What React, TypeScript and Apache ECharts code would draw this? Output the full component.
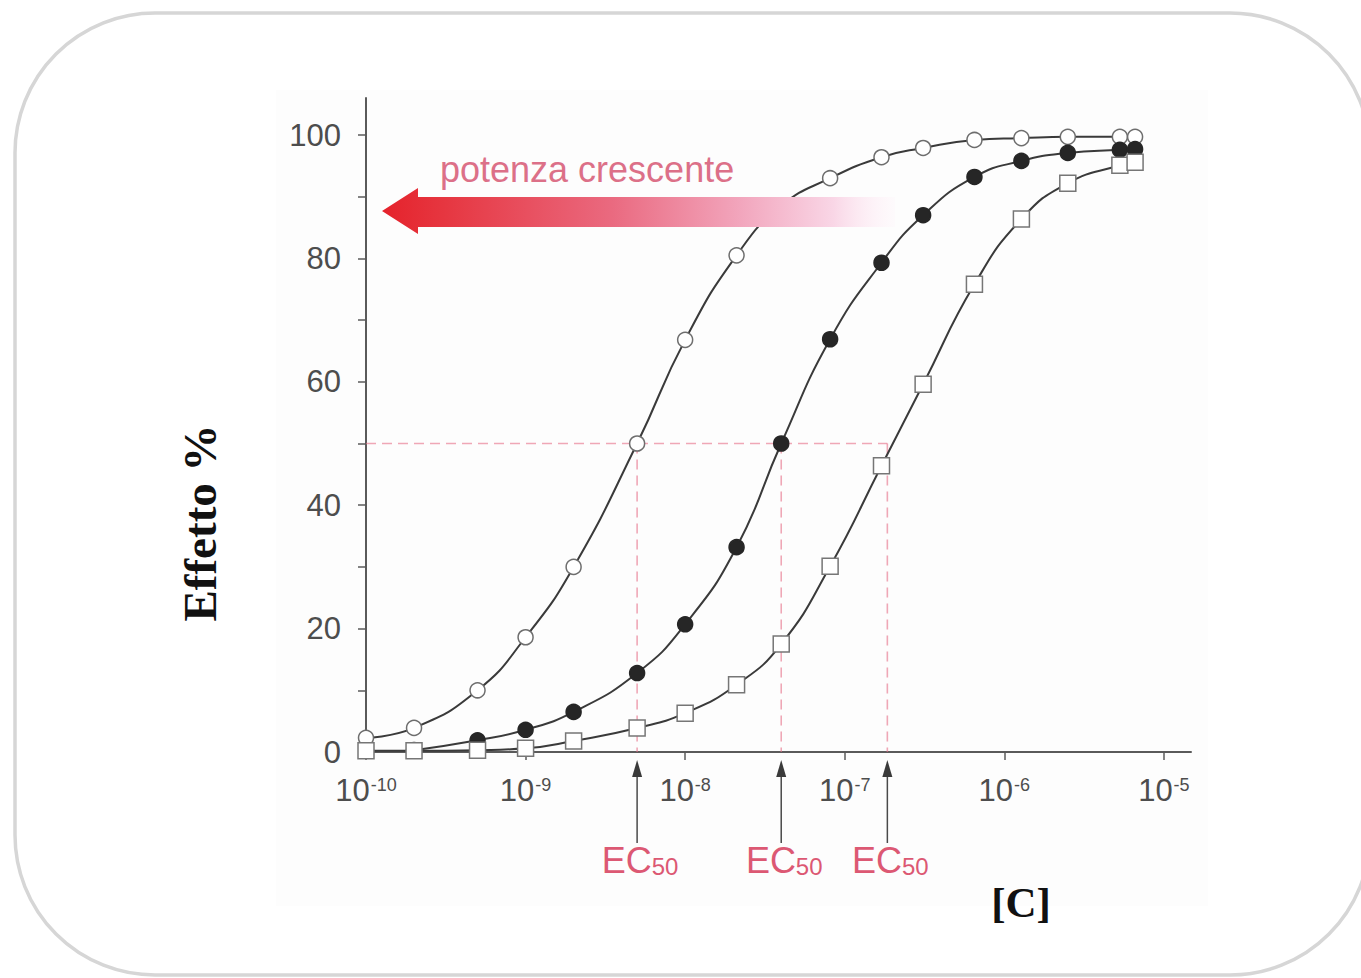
import React, { useEffect, useRef } from "react";
import * as echarts from "echarts";

// Agonist concentrations (mol/L) at which the effect was measured
const concentrations = [
  1e-10, 2e-10, 5e-10, 1e-9, 2e-9, 5e-9, 1e-8, 2.1e-8, 4e-8, 8.1e-8, 1.7e-7,
  3.1e-7, 6.5e-7, 1.28e-6, 2.5e-6, 5.3e-6, 6.6e-6,
];

// Effect (%) for the three agonists
const effectOpen = [
  2.3, 3.9, 10.0, 18.6, 30.0, 50.0, 66.8, 80.5, 88.5, 93.0, 96.4, 97.9, 99.2,
  99.5, 99.7, 99.7, 99.7,
];
const effectFilled = [
  null, 0.3, 1.9, 3.6, 6.5, 12.8, 20.7, 33.2, 50.0, 66.9, 79.3, 87.0, 93.2,
  95.8, 97.1, 97.6, 97.7,
];
const effectSquare = [
  0.2, 0.2, 0.3, 0.6, 1.8, 3.9, 6.3, 10.9, 17.5, 30.1, 46.4, 59.6, 75.8, 86.4,
  92.2, 95.1, 95.6,
];

// EC50 of each curve (mol/L)
const ec50Values = [5e-9, 4e-8, 1.85e-7];
const halfEffect = 50;

// Axis ticks
const xTickExponents = [-10, -9, -8, -7, -6, -5];
const yTickValues = [0, 10, 20, 30, 40, 50, 60, 70, 80, 90, 100];
const yLabelValues = [0, 20, 40, 60, 80, 100];

const AXIS_COLOR = "#5a5a5a";
const LABEL_COLOR = "#4d4d4d";
const CURVE_COLOR = "#3a3a3a";
const GUIDE_COLOR = "rgba(230,110,135,0.6)";
const EC_COLOR = "#dc5873";

const pairs = (values: (number | null)[]) =>
  concentrations
    .map((c, i) => [Math.log10(c), values[i]])
    .filter((p) => p[1] !== null);

export default function App() {
  const ref = useRef<HTMLDivElement>(null);

  useEffect(() => {
    const chart = echarts.init(ref.current!, null, { renderer: "svg" });

    const ecLogs = ec50Values.map((c) => Math.log10(c));
    const guideSeries = [
      {
        type: "line",
        data: [
          [-10, halfEffect],
          [Math.max(...ecLogs), halfEffect],
        ],
      },
      ...ecLogs.map((x) => ({
        type: "line",
        data: [
          [x, halfEffect],
          [x, 0],
        ],
      })),
    ].map((s) => ({
      ...s,
      symbol: "none",
      silent: true,
      z: 1,
      lineStyle: { color: GUIDE_COLOR, width: 1.6, type: [10, 6] },
    }));

    const curve = (
      values: (number | null)[],
      symbol: string,
      size: number,
      fill: string,
      border: string
    ) => ({
      type: "line",
      data: pairs(values),
      smooth: 0.5,
      symbol,
      symbolSize: size,
      showSymbol: true,
      z: 3,
      lineStyle: { color: CURVE_COLOR, width: 2 },
      itemStyle: { color: fill, borderColor: border, borderWidth: 1.5 },
      emphasis: { disabled: true },
    });

    chart.setOption({
      animation: false,
      backgroundColor: "#ffffff",
      grid: { left: 366, top: 98, width: 825, height: 654 },
      xAxis: {
        type: "value",
        min: -10,
        max: -4.83,
        axisLine: { lineStyle: { color: AXIS_COLOR, width: 2 } },
        axisTick: {
          customValues: xTickExponents,
          length: 8,
          lineStyle: { color: AXIS_COLOR, width: 1.5 },
        },
        splitLine: { show: false },
        axisLabel: {
          customValues: xTickExponents,
          margin: 23,
          formatter: (v: number) => `{b|10}{s|${v}}`,
          rich: {
            b: {
              fontFamily: "Liberation Sans",
              fontSize: 31,
              lineHeight: 34,
              color: LABEL_COLOR,
              verticalAlign: "top",
            },
            s: {
              fontFamily: "Liberation Sans",
              fontSize: 18,
              lineHeight: 18,
              color: LABEL_COLOR,
              verticalAlign: "top",
              padding: [1, 0, 0, 1],
            },
          },
        },
      },
      yAxis: {
        type: "value",
        min: 0,
        max: 106,
        axisLine: { show: true, lineStyle: { color: AXIS_COLOR, width: 2 } },
        axisTick: {
          show: true,
          customValues: yTickValues,
          length: 8,
          lineStyle: { color: AXIS_COLOR, width: 1.5 },
        },
        splitLine: { show: false },
        axisLabel: {
          customValues: yLabelValues,
          margin: 25,
          fontFamily: "Liberation Sans",
          fontSize: 31,
          color: LABEL_COLOR,
        },
      },
      series: [
        ...guideSeries,
        curve(effectOpen, "circle", 15, "#ffffff", "#6e6e6e"),
        curve(effectFilled, "circle", 15, "#262626", "#262626"),
        curve(effectSquare, "rect", 16, "#ffffff", "#767676"),
      ],
    });

    // Annotations placed from the EC50 values through the grid's scales
    const ecGraphics: any[] = [];
    ecLogs.forEach((x) => {
      const [px] = chart.convertToPixel({ gridIndex: 0 }, [x, 0]) as number[];
      ecGraphics.push(
        {
          type: "line",
          z: 50,
          shape: { x1: px, y1: 843, x2: px, y2: 774 },
          style: { stroke: "#4a4a4a", lineWidth: 1.5 },
        },
        {
          type: "polygon",
          z: 50,
          shape: {
            points: [
              [px, 760],
              [px - 5, 777],
              [px + 5, 777],
            ],
          },
          style: { fill: "#3a3a3a" },
        },
        {
          type: "text",
          z: 50,
          x: px + 3,
          y: 842,
          style: {
            text: "{a|EC}{b|50}",
            align: "center",
            verticalAlign: "top",
            rich: {
              a: {
                fontFamily: "Liberation Sans",
                fontSize: 36,
                lineHeight: 36,
                fill: EC_COLOR,
                verticalAlign: "top",
              },
              b: {
                fontFamily: "Liberation Sans",
                fontSize: 24,
                lineHeight: 24,
                padding: [14, 0, 0, 0],
                fill: EC_COLOR,
                verticalAlign: "bottom",
              },
            },
          },
        }
      );
    });

    chart.setOption({
      graphic: [
        {
          type: "rect",
          z: -10,
          silent: true,
          shape: { x: 276, y: 90, width: 932, height: 816 },
          style: { fill: "#fdfdfd" },
        },
        {
          type: "rect",
          z: 60,
          silent: true,
          shape: { x: 15, y: 13, width: 1355, height: 962, r: 140 },
          style: { fill: "none", stroke: "#d6d6d6", lineWidth: 3.5 },
        },
        {
          type: "polygon",
          z: 40,
          shape: {
            points: [
              [382, 211],
              [418, 188],
              [418, 197],
              [895, 197],
              [895, 227],
              [418, 227],
              [418, 234],
            ],
          },
          style: {
            fill: new echarts.graphic.LinearGradient(0, 0, 1, 0, [
              { offset: 0, color: "#e5222b" },
              { offset: 0.12, color: "#e63640" },
              { offset: 0.45, color: "#ea6a80" },
              { offset: 0.7, color: "#f2a6bd" },
              { offset: 0.88, color: "#f9d6e6" },
              { offset: 1, color: "rgba(255,240,248,0.2)" },
            ]),
          },
        },
        {
          type: "text",
          z: 40,
          x: 440,
          y: 169,
          style: {
            text: "potenza crescente",
            font: "36px 'Liberation Sans'",
            fill: "#dc7088",
            align: "left",
            verticalAlign: "middle",
          },
        },
        {
          type: "text",
          z: 40,
          x: 200,
          y: 523,
          rotation: Math.PI / 2,
          style: {
            text: "Effetto %",
            font: "bold 47px 'Liberation Serif'",
            fill: "#111111",
            align: "center",
            verticalAlign: "middle",
          },
        },
        {
          type: "text",
          z: 40,
          x: 1021,
          y: 902,
          style: {
            text: "[C]",
            font: "bold 43px 'Liberation Serif'",
            fill: "#111111",
            align: "center",
            verticalAlign: "middle",
          },
        },
        ...ecGraphics,
      ],
    });

    return () => chart.dispose();
  }, []);

  return (
    <div
      ref={ref}
      style={{ position: "absolute", left: 0, top: 0, width: 1361, height: 978 }}
    />
  );
}
